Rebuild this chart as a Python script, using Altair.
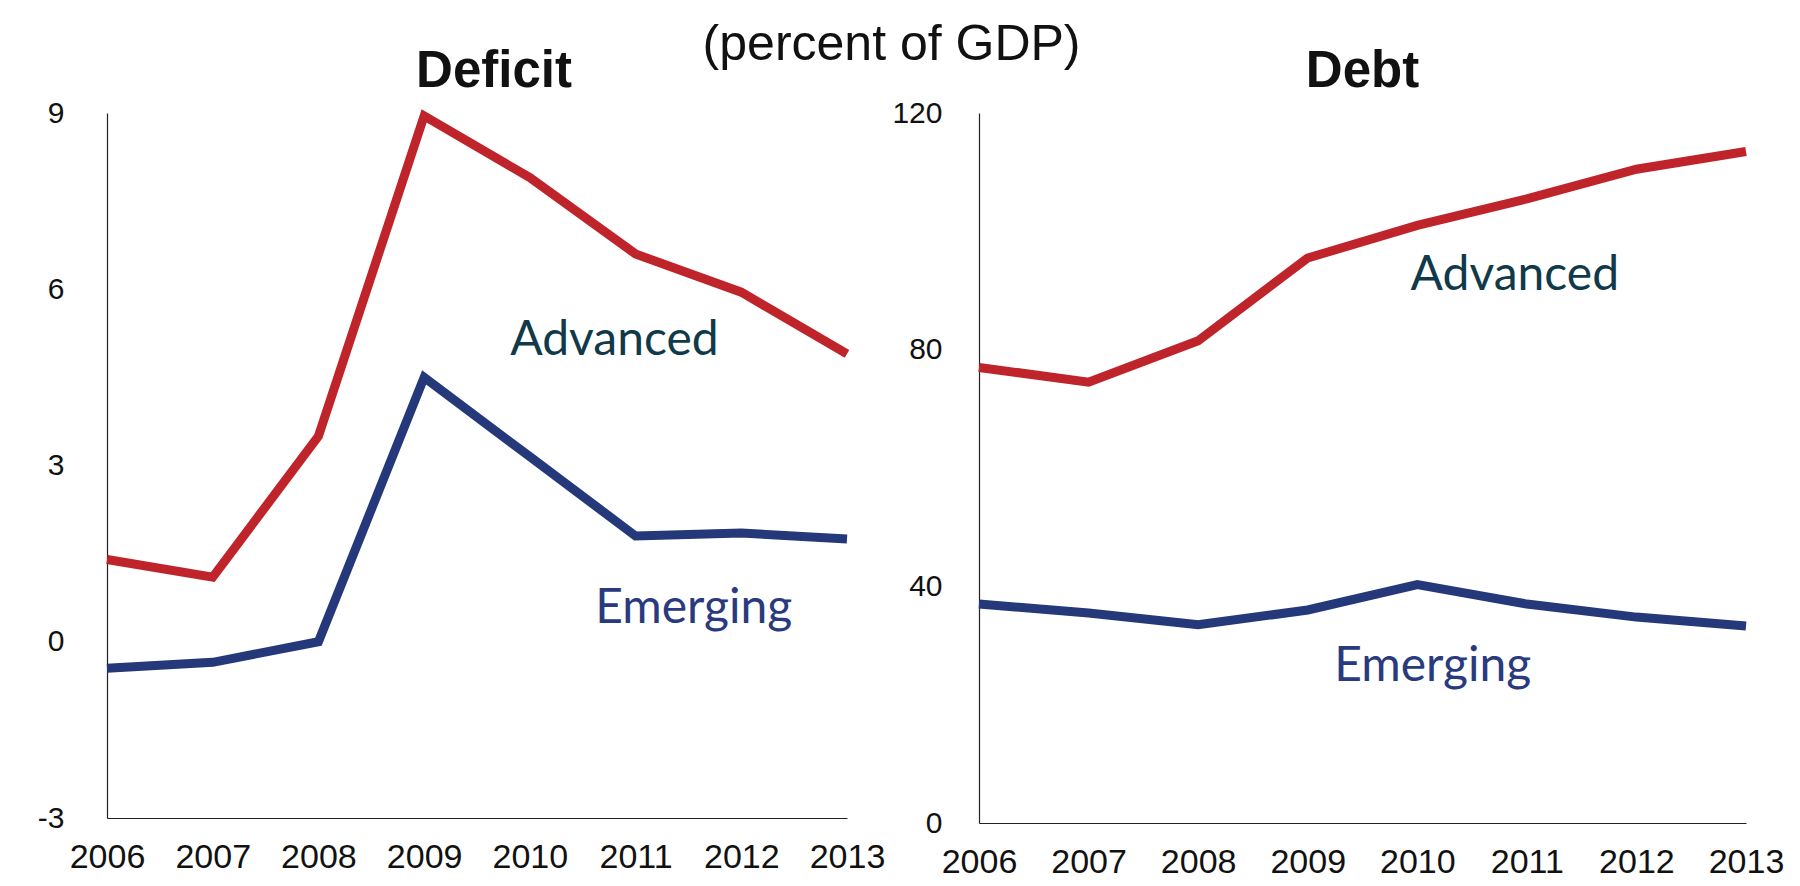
import altair as alt
import pandas as pd

years = [2006, 2007, 2008, 2009, 2010, 2011, 2012, 2013]
deficit_advanced = [1.4, 1.1, 3.5, 8.95, 7.9, 6.6, 5.95, 4.9]
deficit_emerging = [-0.45, -0.35, 0.0, 4.5, 3.15, 1.8, 1.85, 1.75]
debt_advanced = [77, 74.5, 81.5, 95.5, 101, 105.5, 110.5, 113.5]
debt_emerging = [37, 35.5, 33.5, 36, 40.3, 37, 34.8, 33.3]

series_names = ["Advanced", "Emerging"]
line_colors = ["#bf242b", "#24387a"]
label_colors = ["#10394a", "#2a3a7e"]

deficit_ticks = [-3, 0, 3, 6, 9]
debt_ticks = [0, 40, 80, 120]

# label anchor positions (data coordinates)
deficit_label_x = [2010.8, 2011.55]
deficit_label_y = [5.12, 0.56]
debt_label_x = [2010.89, 2010.14]
debt_label_y = [92.4, 26.3]

FONT = "Liberation Sans"


def long_df(adv, emg):
    rows = []
    for s, vals in zip(series_names, [adv, emg]):
        for yr, v in zip(years, vals):
            rows.append({"year": yr, "value": v, "series": s})
    return pd.DataFrame(rows)


def label_df(xs, ys):
    return pd.DataFrame({"year": xs, "value": ys, "series": series_names})


def panel(title, adv, emg, domain, ticks, lx, ly, width, height, title_dx, ypad):
    x = alt.X(
        "year:Q",
        scale=alt.Scale(domain=[2006, 2013], nice=False, zero=False),
        axis=alt.Axis(values=years, format="d", title=None, grid=False, ticks=False,
                      labelFontSize=34, labelFont=FONT, labelColor="#111111",
                      labelPadding=22, labelOverlap=False, labelFlush=False,
                      domainColor="#222222", domainWidth=1.2),
    )
    y = alt.Y(
        "value:Q",
        scale=alt.Scale(domain=domain, nice=False, zero=False),
        axis=alt.Axis(values=ticks, title=None, grid=False, ticks=False,
                      labelExpr="'' + datum.value",
                      labelFontSize=30, labelFont=FONT, labelColor="#111111",
                      labelPadding=ypad, labelOverlap=False, labelFlush=False,
                      domainColor="#222222", domainWidth=1.2),
    )
    color = alt.Color("series:N", scale=alt.Scale(domain=series_names, range=line_colors), legend=None)
    lines = alt.Chart(long_df(adv, emg)).mark_line(strokeWidth=9, strokeJoin="miter", strokeCap="butt").encode(
        x=x, y=y, color=color
    )
    labels = alt.Chart(label_df(lx, ly)).mark_text(
        font="Lato", fontSize=48, align="center", baseline="middle"
    ).encode(
        x=alt.X("year:Q"),
        y=alt.Y("value:Q"),
        text="series:N",
        color=alt.Color("series:N", scale=alt.Scale(domain=series_names, range=label_colors), legend=None),
    )
    return alt.layer(lines, labels).resolve_scale(color="independent").properties(
        width=width,
        height=height,
        title=alt.TitleParams(title, fontSize=51, font=FONT, fontWeight="bold", anchor="middle",
                              offset=0, dx=title_dx, color="#111111"),
    )


left = panel("Deficit", deficit_advanced, deficit_emerging, [-3, 9], deficit_ticks,
             deficit_label_x, deficit_label_y, 740, 705, 17, 43)
right = panel("Debt", debt_advanced, debt_emerging, [0, 120], debt_ticks,
              debt_label_x, debt_label_y, 767, 710, 0, 37)

chart = alt.hconcat(left, right, spacing=6).resolve_scale(y="independent", x="independent").properties(
    title=alt.TitleParams("(percent of GDP)", fontSize=50, font=FONT, fontWeight="normal",
                          anchor="middle", offset=-24, dx=-19, color="#111111"),
    padding={"left": 29, "top": 11, "right": 4, "bottom": 0},
    background="white",
).configure_view(stroke=None)

chart.save("out.html", embed_options={"renderer": "svg", "actions": False})
